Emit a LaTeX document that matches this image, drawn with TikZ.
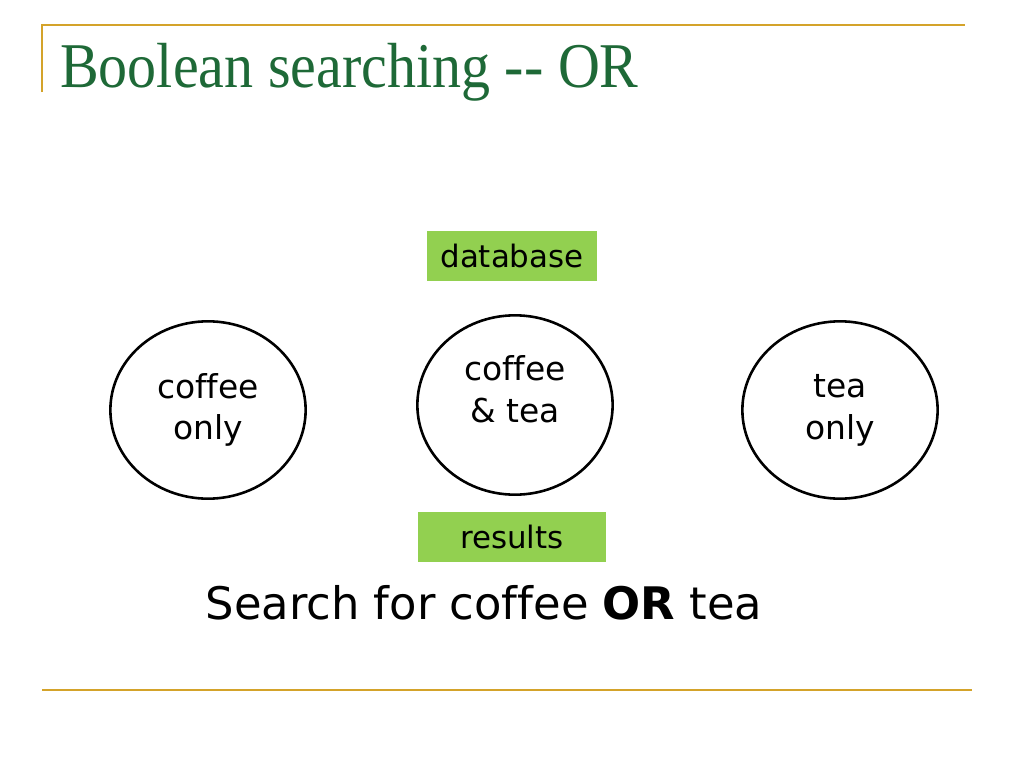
\documentclass[tikz,border=0pt]{standalone}
\usepackage{fontspec}
\setmainfont[Ligatures=NoCommon]{DejaVu Sans}
\newfontfamily\titlefont{Liberation Serif}
\definecolor{rulegold}{RGB}{212,163,42}
\definecolor{titlegreen}{RGB}{30,105,55}
\definecolor{boxgreen}{RGB}{146,208,80}
\tikzset{
    setcircle/.style={draw, line width=2.6pt, ellipse, minimum width=196, minimum height=178, inner sep=0pt, align=center},
    labelbox/.style={fill=boxgreen, minimum height=50, inner sep=0pt, font=\fontsize{31}{41}\selectfont},
    circtext/.style={font=\fontsize{33}{42}\selectfont}
}
\usetikzlibrary{shapes.geometric}
\begin{document}
\begin{tikzpicture}[x=1bp, y=-1bp]
    \useasboundingbox (0,0) rectangle (1024,768);
    % Rules
    \draw[rulegold, line width=2.4pt] (42,92) -- (42,25) -- (965,25);
    \draw[rulegold, line width=2.4pt] (42,690) -- (972,690);
    % Title
    \node[anchor=base west, text=titlegreen, inner sep=0pt, font=\titlefont\fontsize{64}{64}\selectfont] (title) at (60,88) {\scalebox{0.91}[1]{Boolean searching -- OR}};
    % Boxes
    \node[labelbox, minimum width=170] (dbbox) at (512,256) {database};
    \node[labelbox, minimum width=188] (resbox) at (512,537) {results};
    % Sets
    \node[setcircle, circtext] (coffeeonly) at (208,410) {coffee\\only};
    \node[setcircle, minimum height=180] (both) at (515,405) {};
    \node[circtext, align=center] (bothtext) at (515,389) {coffee\\\& tea};
    \node[setcircle, circtext] (teaonly) at (840,410) {tea\\only};
    % Query
    \node[font=\fontsize{45}{45}\selectfont, anchor=base] (query) at (484,619) {Search for coffee \textbf{OR} tea};
\end{tikzpicture}
\end{document}
